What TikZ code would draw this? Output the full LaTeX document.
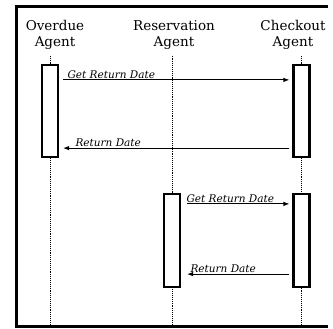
\documentclass[tikz,border=0pt]{standalone}
\usepackage{fontspec}
\setmainfont{DejaVu Serif}
\usetikzlibrary{arrows.meta,positioning}

\begin{document}
\begin{tikzpicture}[x=1pt,y=-1pt, frame/.style={line width=3pt}, agent/.style={align=center,font=\fontsize{13.5}{16}\selectfont,inner sep=0pt}, life/.style={densely dotted,line width=0.9pt}, act/.style={draw,fill=white,line width=2.2pt,minimum width=16pt,inner sep=0pt}, msg/.style={-{Latex[length=6pt,width=4.5pt]},line width=0.9pt}, lbl/.style={font=\itshape\fontsize{10.5}{12}\selectfont,inner sep=1pt}]
\useasboundingbox (0,0) rectangle (333,329);
\coordinate (tl) at (14.5,7);
\coordinate (bl) at (14.5,327);
\coordinate (tr) at (328,7);
\coordinate (br) at (328,327);
\coordinate (lt) at (16,5.5);
\coordinate (lb) at (16,328.5);
\draw[frame] (tl) -- (tr);
\draw[frame] (bl) -- (br);
\draw[frame] (lt) -- (lb);
% agents and lifelines
\node[agent] (overdue) at (55,35) {Overdue\\Agent};
\node[agent] (reservation) at (174,35) {Reservation\\Agent};
\node[agent] (checkout) at (293,35) {Checkout\\Agent};
\coordinate (overdueend) at (50,327);
\coordinate (reservationend) at (172,327);
\coordinate (checkoutend) at (301.5,327);
\draw[life] (overdue.south -| overdueend) ++(0,6) -- (overdueend);
\draw[life] (reservation.south -| reservationend) ++(0,6) -- (reservationend);
\draw[life] (checkout.south -| checkoutend) ++(0,6) -- (checkoutend);
% activations
\node[act,minimum height=92pt] (od1) at (50,111) {};
\node[act,minimum height=92pt] (co1) at (301.5,111) {};
\node[act,minimum height=93pt] (res1) at (172,240.5) {};
\node[act,minimum height=93pt] (co2) at (301.5,240.5) {};
% messages
\draw[msg,shorten <=4pt,shorten >=3pt] ([yshift=-16pt]od1.north east) -- ([yshift=-16pt]co1.north west) node[lbl,pos=0,anchor=south west,xshift=7pt] {Get Return Date};
\draw[msg,shorten <=3pt,shorten >=4pt] ([yshift=10pt]co1.south west) -- ([yshift=10pt]od1.south east) node[lbl,pos=1,anchor=south west,xshift=15pt] {Return Date};
\draw[msg,shorten <=6pt,shorten >=3pt] ([yshift=-11pt]res1.north east) -- ([yshift=-11pt]co2.north west) node[lbl,pos=0,anchor=south west,xshift=4pt] {Get Return Date};
\draw[msg,shorten <=3pt,shorten >=6pt] ([yshift=14pt]co2.south west) -- ([yshift=14pt]res1.south east) node[lbl,pos=1,anchor=south west,xshift=8pt] {Return Date};
\end{tikzpicture}
\end{document}
